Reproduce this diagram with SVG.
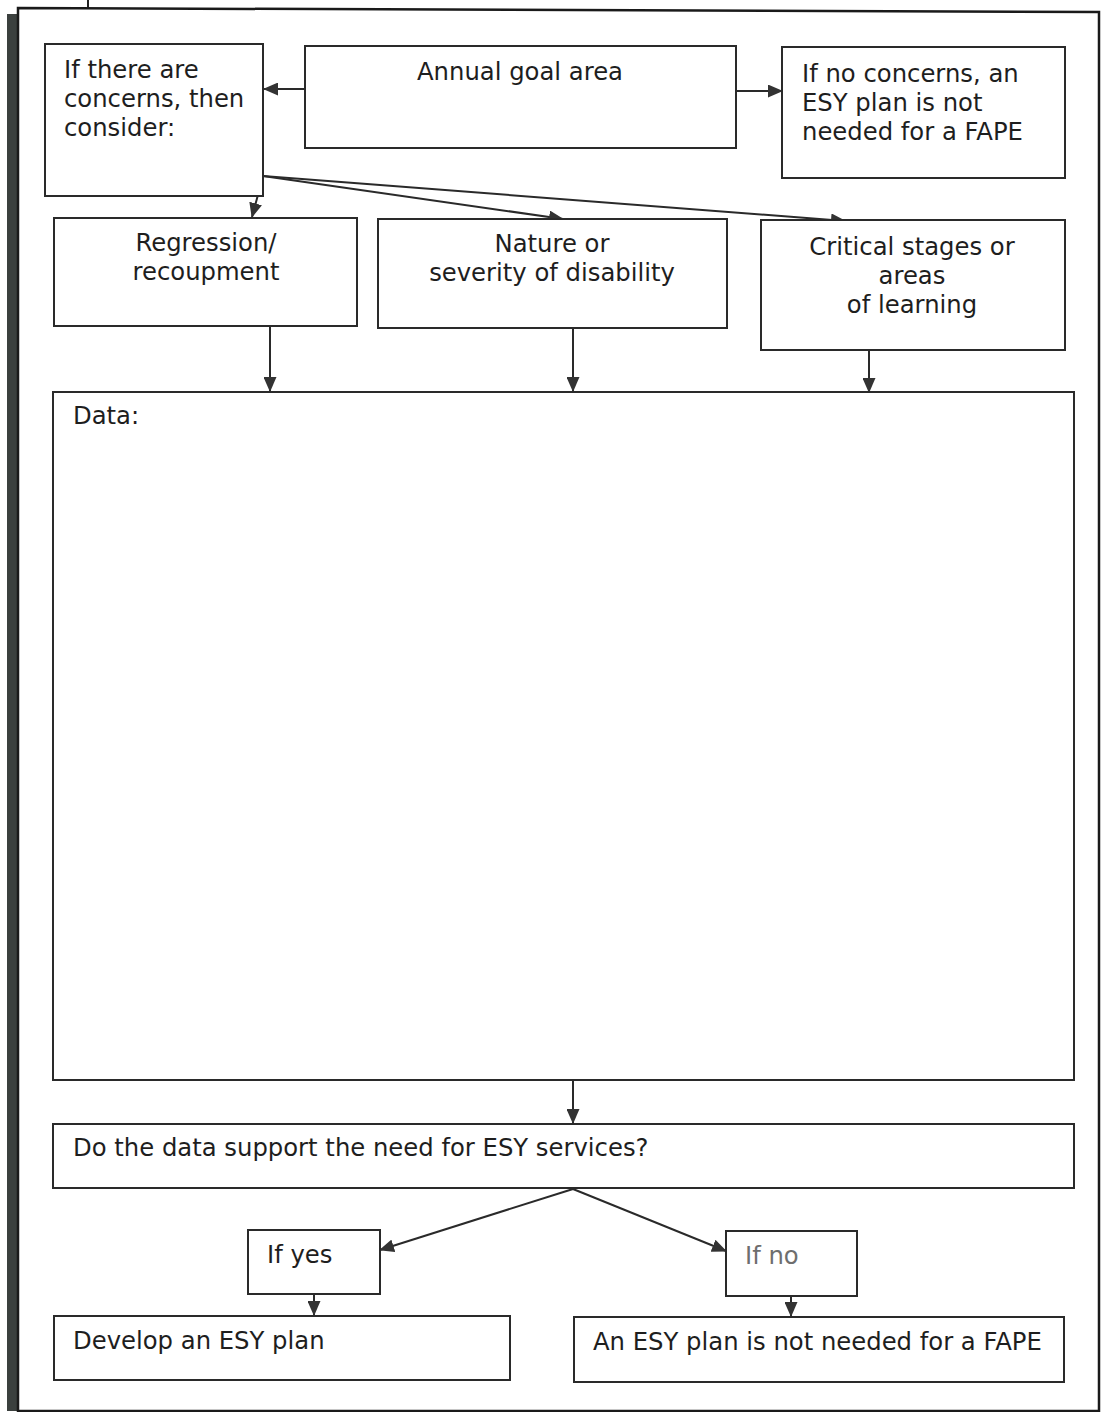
<svg xmlns="http://www.w3.org/2000/svg" width="1104" height="1412" viewBox="0 0 1104 1412">
<style>
.box{fill:#fff;stroke:#2a2a2a;stroke-width:2}
.t{font-family:"DejaVu Sans",Verdana,sans-serif;font-size:24.3px;fill:#1e1e1e}
.c{text-anchor:middle}
.gray{fill:#6e6e6e}
.conn{stroke:#2a2a2a;stroke-width:2;fill:none;marker-end:url(#ah)}
</style>
<defs>
<marker id="ah" markerUnits="userSpaceOnUse" markerWidth="15" markerHeight="13" refX="14" refY="6.5" orient="auto">
<path d="M0,0 L15,6.5 L0,13 Z" fill="#333"/>
</marker>
</defs>
<rect width="1104" height="1412" fill="#fff"/>
<g id="frame">
<line x1="88" y1="0" x2="88" y2="8" stroke="#222" stroke-width="2"/>
<rect x="7" y="14" width="11" height="1397" fill="#3b403e"/>
<path d="M18,8 L1099,12 L1099,1411 L18,1411 Z" fill="none" stroke="#1a1a1a" stroke-width="2.5"/>
</g>
<g id="connectors">
<line class="conn" x1="305" y1="89" x2="264" y2="89"/>
<line class="conn" x1="737" y1="91" x2="782" y2="91"/>
<line class="conn" x1="263" y1="176" x2="252" y2="217"/>
<line class="conn" x1="263" y1="176" x2="563" y2="219"/>
<line class="conn" x1="263" y1="176" x2="845" y2="221"/>
<line class="conn" x1="270" y1="327" x2="270" y2="391"/>
<line class="conn" x1="573" y1="329" x2="573" y2="391"/>
<line class="conn" x1="869" y1="351" x2="869" y2="392"/>
<line class="conn" x1="573" y1="1081" x2="573" y2="1123"/>
<line class="conn" x1="573" y1="1189" x2="380" y2="1250"/>
<line class="conn" x1="573" y1="1189" x2="726" y2="1251"/>
<line class="conn" x1="314" y1="1295" x2="314" y2="1315"/>
<line class="conn" x1="791" y1="1297" x2="791" y2="1316"/>
</g>
<g id="concerns">
<rect class="box" x="45" y="44" width="218" height="152"/>
<text class="t" x="64" y="78">If there are</text>
<text class="t" x="64" y="107">concerns, then</text>
<text class="t" x="64" y="136">consider:</text>
</g>
<g id="annual">
<rect class="box" x="305" y="46" width="431" height="102"/>
<text class="t c" x="520" y="80">Annual goal area</text>
</g>
<g id="noconcerns">
<rect class="box" x="782" y="47" width="283" height="131"/>
<text class="t" x="802" y="82">If no concerns, an</text>
<text class="t" x="802" y="111">ESY plan is not</text>
<text class="t" x="802" y="140">needed for a FAPE</text>
</g>
<g id="regression">
<rect class="box" x="54" y="218" width="303" height="108"/>
<text class="t c" x="206" y="251">Regression/</text>
<text class="t c" x="206" y="280">recoupment</text>
</g>
<g id="nature">
<rect class="box" x="378" y="219" width="349" height="109"/>
<text class="t c" x="552" y="252">Nature or</text>
<text class="t c" x="552" y="281">severity of disability</text>
</g>
<g id="critical">
<rect class="box" x="761" y="220" width="304" height="130"/>
<text class="t c" x="912" y="255">Critical stages or</text>
<text class="t c" x="912" y="284">areas</text>
<text class="t c" x="912" y="313">of learning</text>
</g>
<g id="data">
<rect class="box" x="53" y="392" width="1021" height="688"/>
<text class="t" x="73" y="424">Data:</text>
</g>
<g id="question">
<rect class="box" x="53" y="1124" width="1021" height="64"/>
<text class="t" x="73" y="1156">Do the data support the need for ESY services?</text>
</g>
<g id="ifyes">
<rect class="box" x="248" y="1230" width="132" height="64"/>
<text class="t" x="267" y="1263">If yes</text>
</g>
<g id="ifno">
<rect class="box" x="726" y="1231" width="131" height="65"/>
<text class="t gray" x="745" y="1264">If no</text>
</g>
<g id="develop">
<rect class="box" x="54" y="1316" width="456" height="64"/>
<text class="t" x="73" y="1349">Develop an ESY plan</text>
</g>
<g id="notneeded">
<rect class="box" x="574" y="1317" width="490" height="65"/>
<text class="t" x="593" y="1350">An ESY plan is not needed for a FAPE</text>
</g>
</svg>
